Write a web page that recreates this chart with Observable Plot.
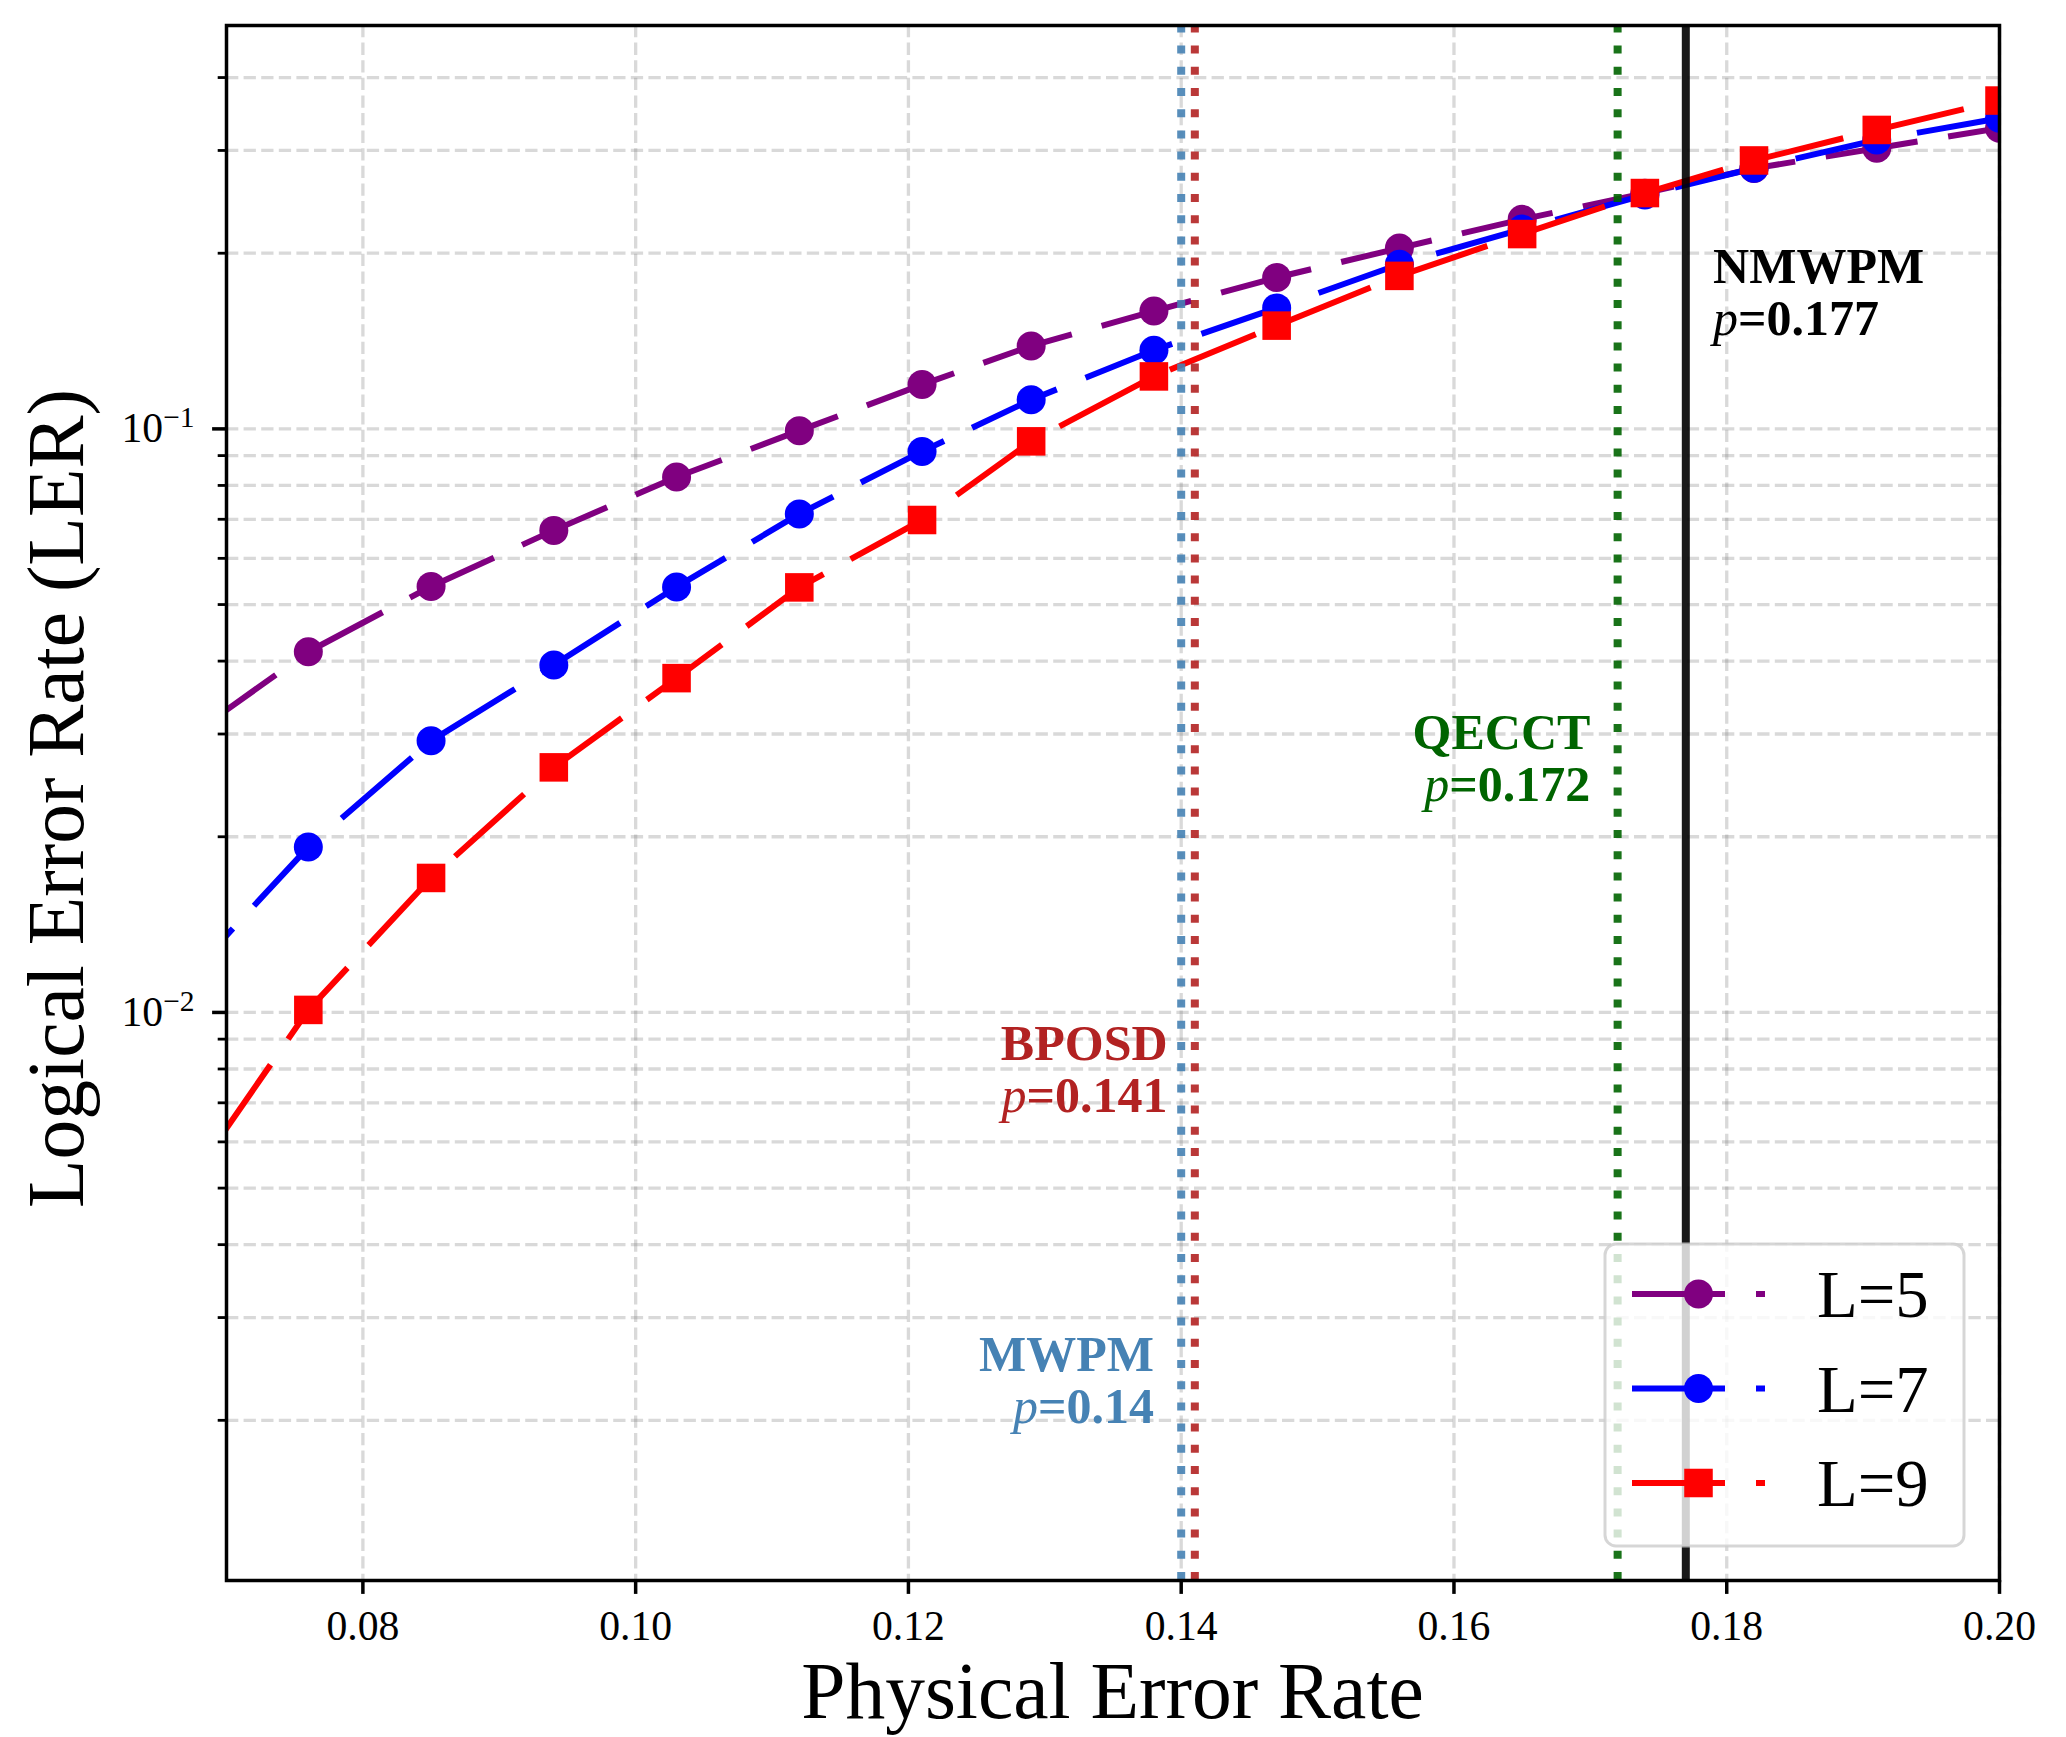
<!DOCTYPE html>
<html>
<head>
<meta charset="utf-8">
<script src="https://cdn.jsdelivr.net/npm/d3@7"></script>
<script src="https://cdn.jsdelivr.net/npm/@observablehq/plot@0.6"></script>
<style>
  html, body { margin: 0; padding: 0; background: #fff; }
  #chart svg { display: block; }
</style>
</head>
<body>
<div id="chart"></div>
<script>
// Physical error rates sampled for every code distance (the first one sits just left of the window)
const physicalErrorRate = [0.067, 0.076, 0.085, 0.094, 0.103, 0.112, 0.121, 0.129, 0.138, 0.147, 0.156, 0.165, 0.174, 0.182, 0.191, 0.200];

// Logical error rate per code distance
const lerL5 = [0.0294, 0.0415, 0.0537, 0.0670, 0.0827, 0.0993, 0.1191, 0.1387, 0.1592, 0.1817, 0.2041, 0.2286, 0.2535, 0.2795, 0.3027, 0.3276];
const lerL7 = [0.01138, 0.0192, 0.0292, 0.0394, 0.0536, 0.0715, 0.0915, 0.1122, 0.1364, 0.1612, 0.1915, 0.2200, 0.2517, 0.2797, 0.3126, 0.3406];
const lerL9 = [0.00501, 0.0101, 0.0170, 0.0263, 0.0374, 0.0535, 0.0698, 0.0952, 0.1230, 0.1503, 0.1829, 0.2157, 0.2536, 0.2884, 0.3253, 0.3653];

const seriesNames = ["L=5", "L=7", "L=9"];
const seriesColors = ["purple", "blue", "red"];
const seriesSymbols = ["circle", "circle", "square"];

// Decoder thresholds
const decoders = ["MWPM", "BPOSD", "QECCT", "NMWPM"];
const thresholds = [0.14, 0.141, 0.172, 0.177];
const decoderColors = ["steelblue", "firebrick", "darkgreen", "black"];

// Axis ticks
const xTicks = [0.08, 0.10, 0.12, 0.14, 0.16, 0.18, 0.20];
const yMajorTicks = [0.01, 0.1];
const yMinorTicks = [0.002, 0.003, 0.004, 0.005, 0.006, 0.007, 0.008, 0.009,
                     0.02, 0.03, 0.04, 0.05, 0.06, 0.07, 0.08, 0.09,
                     0.2, 0.3, 0.4];

// ---- layout ----
const W = 2066, H = 1737;
const margin = {top: 25, right: 67, bottom: 157, left: 226};
const xDomain = [0.07, 0.20];
const yDomain = [0.001063, 0.4912];
const serif = "'Liberation Serif', 'Times New Roman', Times, serif";

const lerBySeries = [lerL5, lerL7, lerL9];
const series = seriesNames.map((name, k) => ({
  name,
  color: seriesColors[k],
  symbol: seriesSymbols[k],
  rows: physicalErrorRate.map((p, i) => ({p, ler: lerBySeries[k][i]}))
}));

const decoderRows = decoders.map((name, i) => ({name, p: thresholds[i], color: decoderColors[i]}));

// vertical placement of each decoder label, as a fraction of the frame height
const labelFraction = {MWPM: 0.15, BPOSD: 0.35, QECCT: 0.55, NMWPM: 0.85};
const labelOnRight = {NMWPM: true};
const yAt = f => Math.exp(Math.log(yDomain[0]) + f * (Math.log(yDomain[1]) - Math.log(yDomain[0])));

const dashPattern = "93,31";
const dashPhase = [106.2, 23.3, 67.6];
const markerR = s => s === "square" ? 16.1 : 14.5;

const gridStyle = {stroke: "#808080", strokeOpacity: 0.3, strokeWidth: 3.3, strokeDasharray: "12.3,5.3"};

const seriesMarks = series.flatMap((s, k) => [
  Plot.line(s.rows, {x: "p", y: "ler", stroke: s.color, strokeWidth: 6,
    strokeDasharray: dashPattern, strokeDashoffset: dashPhase[k],
    strokeLinecap: "butt", strokeLinejoin: "round", clip: true}),
  Plot.dot(s.rows, {x: "p", y: "ler", fill: s.color, symbol: s.symbol, r: markerR(s.symbol), clip: true})
]);

const leftLabels = decoderRows.filter(d => !labelOnRight[d.name]);
const rightLabels = decoderRows.filter(d => labelOnRight[d.name]);
const labelText = (rows, anchor, shift) => [
  Plot.text(rows, {x: d => d.p + shift, y: d => yAt(labelFraction[d.name]), text: "name",
    fill: "color", textAnchor: anchor, lineAnchor: "bottom", dy: 24,
    fontSize: 50, fontWeight: "bold", fontFamily: serif}),
  Plot.text(rows, {x: d => d.p + shift, y: d => yAt(labelFraction[d.name]), text: d => `p=${d.p}`,
    fill: "color", textAnchor: anchor, lineAnchor: "bottom", dy: 76,
    fontSize: 50, fontWeight: "bold", fontFamily: serif})
];

const chart = Plot.plot({
  width: W,
  height: H,
  marginTop: margin.top,
  marginRight: margin.right,
  marginBottom: margin.bottom,
  marginLeft: margin.left,
  style: {fontFamily: serif, fontSize: "41.7px", background: "white", color: "black"},
  x: {type: "linear", domain: xDomain, label: null},
  y: {type: "log", domain: yDomain, label: null},
  marks: [
    Plot.gridX({ticks: xTicks, ...gridStyle}),
    Plot.gridY({ticks: [...yMajorTicks, ...yMinorTicks], ...gridStyle}),
    ...seriesMarks,
    Plot.ruleX(decoderRows.filter(d => d.name !== "NMWPM"), {x: "p", y1: yDomain[0], y2: yDomain[1],
      stroke: "color", strokeWidth: 8, strokeOpacity: 0.9, strokeDasharray: "8,13.2", strokeLinecap: "butt"}),
    Plot.ruleX(decoderRows.filter(d => d.name === "NMWPM"), {x: "p", y1: yDomain[0], y2: yDomain[1],
      stroke: "color", strokeWidth: 8, strokeOpacity: 0.9}),
    ...labelText(leftLabels, "end", -0.002),
    ...labelText(rightLabels, "start", 0.002),
    Plot.frame({stroke: "black", strokeWidth: 3.5}),
    Plot.axisX({ticks: xTicks, tickFormat: d3.format(".2f"), tickSize: 13.9, tickPadding: 16,
      strokeWidth: 3.5, fontSize: 41.7, label: null}),
    Plot.axisY({ticks: yMajorTicks, tickFormat: d => `10^${Math.round(Math.log10(d))}`,
      tickSize: 13.9, tickPadding: 18, strokeWidth: 3.5, fontSize: 41.7, label: null}),
    Plot.axisY({ticks: yMinorTicks, tickFormat: () => "", tickSize: 8.3, strokeWidth: 2.8, label: null})
  ]
});

document.getElementById("chart").appendChild(chart);
const svg = d3.select(chart);

// powers of ten on the y axis
svg.selectAll('g[aria-label="y-axis tick label"] text').each(function () {
  const m = /^10\^(-?\d+)$/.exec(this.textContent);
  if (!m) return;
  const el = d3.select(this);
  el.text("10");
  el.append("tspan").attr("font-size", 29.5).attr("dy", -15).text(m[1].replace("-", "\u2212"));
});

// italic p in the threshold values
svg.selectAll("text")
  .filter(function () { return /^p=\d/.test(this.textContent); })
  .each(function () {
    const t = this.textContent;
    const el = d3.select(this);
    el.text("");
    el.append("tspan").attr("font-style", "italic").attr("font-weight", "normal").text(t.slice(0, 1));
    el.append("tspan").text(t.slice(1));
  });

// axis titles
const frameLeft = margin.left, frameRight = W - margin.right;
const frameTop = margin.top, frameBottom = H - margin.bottom;
svg.append("text")
  .attr("x", (frameLeft + frameRight) / 2)
  .attr("y", frameBottom + 138)
  .attr("text-anchor", "middle")
  .attr("font-family", serif)
  .attr("font-size", 79.5)
  .attr("fill", "black")
  .text("Physical Error Rate");
svg.append("text")
  .attr("transform", `translate(${frameLeft - 143.5},${(frameTop + frameBottom) / 2 - 4}) rotate(-90)`)
  .attr("text-anchor", "middle")
  .attr("font-family", serif)
  .attr("font-size", 79.5)
  .attr("fill", "black")
  .text("Logical Error Rate (LER)");

// legend in the lower right corner of the frame
const lgW = 359, lgH = 302;
const lgX = frameRight - 35 - lgW, lgY = frameBottom - 34 - lgH;
const legend = svg.append("g").attr("aria-label", "legend");
legend.append("rect")
  .attr("x", lgX).attr("y", lgY).attr("width", lgW).attr("height", lgH)
  .attr("rx", 11).attr("ry", 11)
  .attr("fill", "white").attr("fill-opacity", 0.8)
  .attr("stroke", "#cccccc").attr("stroke-opacity", 0.8).attr("stroke-width", 3);
series.forEach((s, k) => {
  const cy = lgY + 50 + k * 94.5;
  const hx0 = lgX + 27, hx1 = hx0 + 133, hm = (hx0 + hx1) / 2;
  legend.append("line")
    .attr("x1", hx0).attr("x2", hx1).attr("y1", cy).attr("y2", cy)
    .attr("stroke", s.color).attr("stroke-width", 6)
    .attr("stroke-dasharray", dashPattern);
  const sym = s.symbol === "square" ? d3.symbolSquare : d3.symbolCircle;
  const r = markerR(s.symbol);
  legend.append("path")
    .attr("transform", `translate(${hm},${cy})`)
    .attr("d", d3.symbol(sym, Math.PI * r * r)())
    .attr("fill", s.color);
  legend.append("text")
    .attr("x", lgX + 212).attr("y", cy + 23)
    .attr("text-anchor", "start")
    .attr("font-family", serif).attr("font-size", 66.7).attr("fill", "black")
    .text(s.name);
});
</script>
</body>
</html>
